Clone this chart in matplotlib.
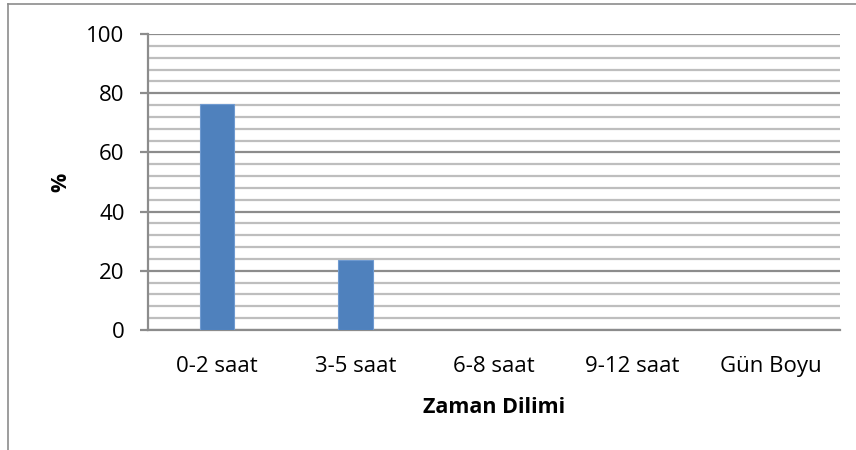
import matplotlib
matplotlib.use("Agg")
import matplotlib.pyplot as plt
from matplotlib.lines import Line2D
from matplotlib.ticker import MultipleLocator

categories = ["0-2 saat", "3-5 saat", "6-8 saat", "9-12 saat", "Gün Boyu"]
values = [76.5, 23.5, 0, 0, 0]
y_ticks = [0, 20, 40, 60, 80, 100]

plt.rcParams['font.family'] = ['Open Sans', 'DejaVu Sans']

fig = plt.figure(figsize=(8.56, 4.5), dpi=100)
ax = fig.add_axes([148/856, 1-330/450, (840-148)/856, (330-34)/450])

x = list(range(len(categories)))
ax.bar(x, values, width=0.25, color='#4F81BD', edgecolor='#6F9AD0', linewidth=0.8, zorder=3)

ax.set_xlim(-0.5, len(categories)-0.5)
ax.set_ylim(0, 100)
ax.set_yticks(y_ticks)
ax.yaxis.set_minor_locator(MultipleLocator(4))
ax.grid(which='major', axis='y', color='#8C8C8C', linewidth=1.6, zorder=0)
ax.grid(which='minor', axis='y', color='#BEBEBE', linewidth=1.6, zorder=0)
ax.set_xticks(x)
ax.set_xticklabels(categories)
ax.tick_params(axis='x', length=0, pad=19, labelsize=16)
ax.tick_params(axis='y', which='major', length=5.8, width=1.6, color='#8C8C8C', pad=11, labelsize=16)
ax.tick_params(axis='y', which='minor', length=0)

for s in ['top', 'right']:
    ax.spines[s].set_visible(False)
for s in ['left', 'bottom']:
    ax.spines[s].set_color('#8C8C8C')
    ax.spines[s].set_linewidth(1.6)

ax.set_xlabel('Zaman Dilimi', fontsize=15.5, fontweight='bold', labelpad=14)
ax.set_ylabel('%', fontsize=15.5, fontweight='bold', labelpad=11)

# outer chart frame (top and left edges visible)
fig.add_artist(Line2D([8/856, 1], [1-4/450, 1-4/450], color='#8C8C8C', linewidth=1.2, transform=fig.transFigure))
fig.add_artist(Line2D([8/856, 8/856], [0, 1-4/450], color='#8C8C8C', linewidth=1.2, transform=fig.transFigure))

fig.savefig('out.png', dpi=100)
